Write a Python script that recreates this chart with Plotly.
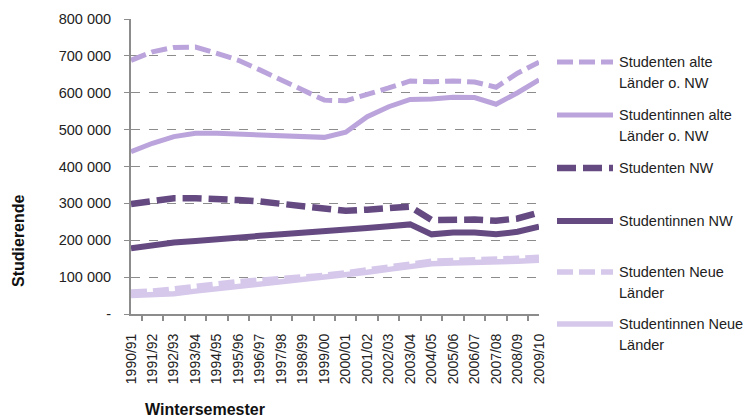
import plotly.graph_objects as go

semesters = ["1990/91", "1991/92", "1992/93", "1993/94", "1994/95", "1995/96", "1996/97",
             "1997/98", "1998/99", "1999/00", "2000/01", "2001/02", "2002/03", "2003/04",
             "2004/05", "2005/06", "2006/07", "2007/08", "2008/09", "2009/10"]

studenten_alte = [688000, 711000, 723000, 724000, 707000, 688000, 662000, 635000, 605000, 580000,
                  578000, 594000, 613000, 632000, 630000, 632000, 629000, 615000, 653000, 683000]
studentinnen_alte = [440000, 463000, 481000, 490000, 490000, 488000, 487000, 485000, 483000, 479000,
                     493000, 535000, 562000, 582000, 583000, 588000, 587000, 569000, 600000, 635000]
studenten_nw = [298000, 307000, 314000, 314000, 313000, 309000, 305000, 298000, 291000, 284000,
                280000, 283000, 285000, 291000, 255000, 256000, 256000, 253000, 259000, 275000]
studentinnen_nw = [178000, 187000, 194000, 198000, 204000, 208000, 212000, 216000, 220000, 221000,
                   226000, 233000, 238000, 243000, 216000, 221000, 221000, 216000, 223000, 237000]
studenten_neue = [60000, 62000, 68000, 75000, 82000, 88000, 92000, 96000, 100000, 105000,
                  112000, 120000, 128000, 137000, 143000, 145000, 146000, 148000, 151000, 154000]
studentinnen_neue = [50000, 51000, 55000, 62000, 68000, 74000, 80000, 86000, 92000, 98000,
                     105000, 113000, 121000, 130000, 136000, 138000, 139000, 141000, 143000, 146000]

series_names = ["Studenten alte<br>Länder o. NW", "Studentinnen alte<br>Länder o. NW",
                "Studenten NW", "Studentinnen NW",
                "Studenten Neue<br>Länder", "Studentinnen Neue<br>Länder"]
series_values = [studenten_alte, studentinnen_alte, studenten_nw, studentinnen_nw,
                 studenten_neue, studentinnen_neue]

y_tickvals = [0, 100000, 200000, 300000, 400000, 500000, 600000, 700000, 800000]
y_ticktext = ["-", "100 000", "200 000", "300 000", "400 000", "500 000", "600 000",
              "700 000", "800 000"]

LIGHT = "#BBA4DB"
DARK = "#654A82"
PALE = "#D6C8EA"
styles = [
    dict(color=LIGHT, width=5, dash="16px,6px"),
    dict(color=LIGHT, width=5, dash="solid"),
    dict(color=DARK, width=6.5, dash="19px,7px"),
    dict(color=DARK, width=6, dash="solid"),
    dict(color=PALE, width=5.5, dash="16px,6px"),
    dict(color=PALE, width=5.5, dash="solid"),
]

# the page body has an 8px margin: size the figure so the plot area lands
# at page pixels x 131..539, y 19..314
OFF = 8
W, H = 751 - OFF, 419 - OFF
L, T, R, B = 131 - OFF, 19 - OFF, 212, 105
PW, PH = W - L - R, H - T - B
X0, Y0 = L + OFF, T + OFF + PH  # page pixel of plot origin


def px(x):
    return (x - X0) / PW


def py(y):
    return (Y0 - y) / PH


fig = go.Figure()
for i in [5, 4, 3, 2, 1, 0]:
    fig.add_trace(go.Scatter(x=semesters, y=series_values[i], mode="lines",
                             name=series_names[i].replace("<br>", " "),
                             line=styles[i], showlegend=False))

GRID = "#8C8C8C"
FONT = "Liberation Sans, Arial, sans-serif"

fig.update_layout(
    width=W, height=H,
    margin=dict(l=L, r=R, t=T, b=B),
    plot_bgcolor="white", paper_bgcolor="white",
    font=dict(family=FONT, size=14, color="#222222"),
    showlegend=False,
    xaxis=dict(type="category", tickangle=-90, showline=True, linecolor=GRID, linewidth=2,
               ticks="outside", tickson="boundaries", ticklen=5, tickcolor=GRID, tickwidth=2,
               showgrid=False, tickfont=dict(size=14), ticklabelstandoff=12, automargin=False),
    yaxis=dict(range=[0, 800000], tickvals=y_tickvals, ticktext=y_ticktext,
               showline=True, linecolor=GRID, linewidth=2, ticks="outside", ticklen=5,
               tickcolor=GRID, tickwidth=1, showgrid=True, gridcolor=GRID, griddash="dash",
               gridwidth=1, zeroline=False, tickfont=dict(size=14.5), ticklabelstandoff=10,
               automargin=False),
)

# axis titles
fig.add_annotation(text="<b>Studierende</b>", x=px(18), y=py(241), xref="paper", yref="paper",
                   textangle=-90, showarrow=False, font=dict(size=16, color="#111111"),
                   xanchor="center", yanchor="middle")
fig.add_annotation(text="<b>Wintersemester</b>", x=px(205), y=py(409), xref="paper", yref="paper",
                   showarrow=False, font=dict(size=16, color="#111111"),
                   xanchor="center", yanchor="middle")

# legend (manual)
legend_y = [62, 115, 168, 221, 272, 324]
line_gap = 20.5
for i, name in enumerate(series_names):
    yc = legend_y[i]
    st = styles[i]
    fig.add_shape(type="line", xref="paper", yref="paper",
                  x0=px(557), x1=px(613), y0=py(yc), y1=py(yc),
                  line=dict(color=st["color"], width=st["width"], dash=st["dash"]))
    for j, part in enumerate(name.split("<br>")):
        fig.add_annotation(text=part, x=px(617), y=py(yc + j * line_gap), xref="paper",
                           yref="paper", showarrow=False, xanchor="left", yanchor="middle",
                           font=dict(size=14.5, color="#222222"))

fig.write_html("out.html")
